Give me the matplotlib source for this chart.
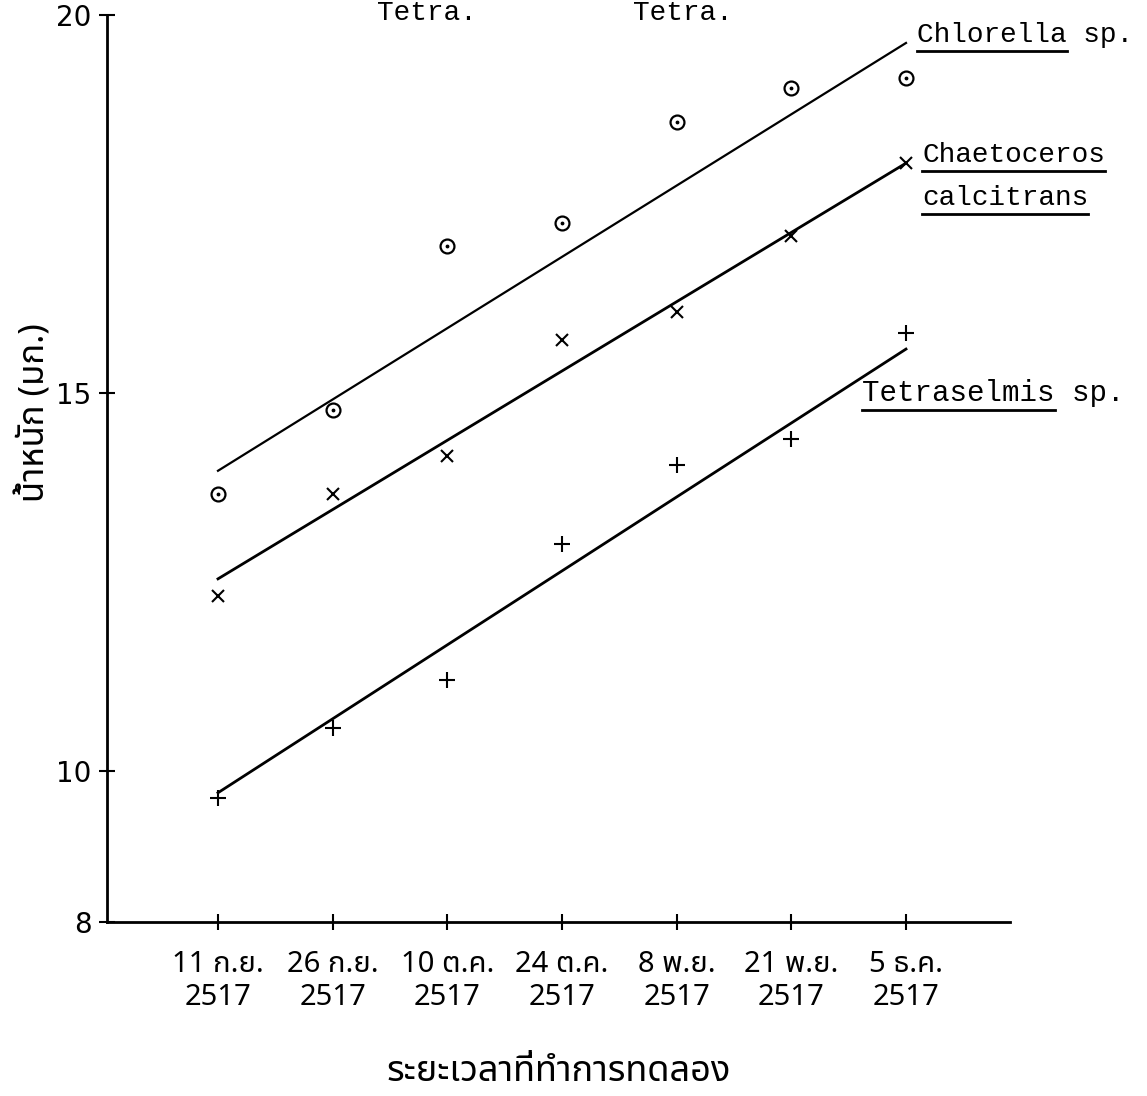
import numpy as np
from matplotlib import pyplot as plt

# data
dates = ['11 ก.ย.', '26 ก.ย.', '10 ต.ค.', '24 ต.ค.', '8 พ.ย.', '21 พ.ย.', '5 ธ.ค.']
year = '2517'
chlorella = [13.66, 14.78, 16.94, 17.25, 18.58, 19.03, 19.17]
chaeto = [12.31, 13.66, 14.17, 15.70, 16.07, 17.08, 18.04]
tetra = [9.64, 10.57, 11.20, 13.00, 14.05, 14.39, 15.79]

# hand drawn trend lines (value at first and last date)
chlorella_fit = [13.97, 19.63]
chaeto_fit = [12.54, 18.04]
tetra_fit = [9.71, 15.58]

yticks = [8, 10, 15, 20]

thai_family = ['Noto Sans Thai', 'DejaVu Sans']
mono = 'Liberation Mono'

fig = plt.figure(figsize=(11.47, 10.96), dpi=100)
ax = fig.add_axes([107/1147, 1 - 922/1096, (1010 - 107)/1147, (922 - 15)/1096])

x = np.arange(len(dates))
ax.plot(x, chlorella, 'o', ms=10, mfc='none', mec='black', mew=1.6)
ax.plot(x, chlorella, '.', ms=3.5, color='black')
ax.plot(x, chaeto, 'x', ms=9, color='black', mew=1.5)
ax.plot(x, tetra, '+', ms=12, color='black', mew=1.5)

ends = [x[0], x[-1]]
ax.plot(ends, chlorella_fit, color='black', lw=1.6)
ax.plot(ends, chaeto_fit, color='black', lw=2.0)
ax.plot(ends, tetra_fit, color='black', lw=2.0)

ax.set_xlim(-0.968, 6.907)
ax.set_ylim(8, 20)
ax.set_yticks(yticks)
ax.set_yticklabels([str(v) for v in yticks], fontsize=20)
ax.set_xticks(x)
ax.set_xticklabels([d + '\n' + year for d in dates], fontsize=21, family=thai_family,
                   linespacing=1.2)
ax.tick_params(axis='both', direction='inout', length=12, width=1.5, pad=14)
ax.tick_params(axis='y', pad=5)
for s in ['top', 'right']:
    ax.spines[s].set_visible(False)
for s in ['left', 'bottom']:
    ax.spines[s].set_linewidth(2)

ax.set_ylabel('น้ำหนัก (มก.)', fontsize=25, family=thai_family)
ax.yaxis.set_label_coords(-0.06, 0.562)
ax.set_xlabel('ระยะเวลาที่ทำการทดลอง', fontsize=26, family=thai_family, labelpad=30)

# species labels, the names underlined as in the typed original
labels = [
    (6.10, 19.74, 'Chlorella', ' sp.', 20),
    (6.14, 18.15, 'Chaetoceros', '', 20),
    (6.14, 17.58, 'calcitrans', '', 20),
    (5.62, 15.00, 'Tetraselmis', ' sp.', 21),
]
fig.canvas.draw()
r = fig.canvas.get_renderer()
for lx, ly, name, tail, fs in labels:
    full = name + tail
    t = ax.text(lx, ly, full, fontsize=fs, family=mono, va='center', ha='left')
    bb = t.get_window_extent(r)
    x1 = bb.x0 + bb.width * len(name) / len(full)
    yl = (bb.y0 - 3) / 1096
    fig.add_artist(plt.Line2D([bb.x0 / 1147, x1 / 1147], [yl, yl], color='black', lw=2))

# cut-off equation at the top edge of the scan
fig.text(377 / 1147, 1 - 13 / 1096, 'Tetra.', fontsize=20, family=mono, va='center')
fig.text(633 / 1147, 1 - 13 / 1096, 'Tetra.', fontsize=20, family=mono, va='center')

fig.savefig('out.png', dpi=100)
